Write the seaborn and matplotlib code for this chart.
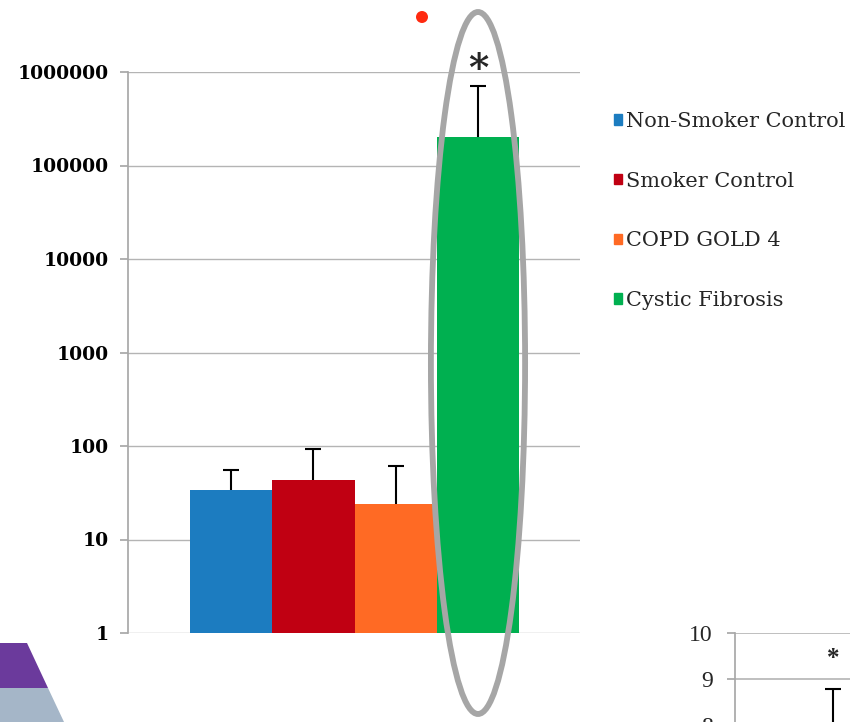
import numpy as np
import pandas as pd
import matplotlib
matplotlib.use("Agg")
import matplotlib.pyplot as plt
import seaborn as sns
from matplotlib.patches import Ellipse, Patch, Polygon
from matplotlib.ticker import NullLocator
from matplotlib.transforms import blended_transform_factory

# Data
groups = ["Non-Smoker Control", "Smoker Control", "COPD GOLD 4", "Cystic Fibrosis"]
means = [34, 43, 24, 201000]
upper_err = [21, 50, 37, 509000]
colors = ["#1c7cc0", "#c00012", "#ff6a24", "#00b050"]
y_ticks = [1, 10, 100, 1000, 10000, 100000, 1000000]

# second chart, cut off at the lower right of the slide
inset_groups = ["Cystic Fibrosis"]
inset_means = [7.2]
inset_err = [1.58]
inset_ticks = [8, 9, 10]

sns.set_theme(style="white")
plt.rcParams["font.family"] = ["DejaVu Serif"]

fig = plt.figure(figsize=(8.5, 7.22), dpi=100)
W, H = 850, 722

def fx(px):
    return px / W

def fy(py):
    return 1 - py / H

# main chart
ax = fig.add_axes([fx(128), fy(633), fx(580) - fx(128), fy(72) - fy(633)])
df = pd.DataFrame({"set": [""] * len(groups), "group": groups, "value": means})
sns.barplot(data=df, x="set", y="value", hue="group", hue_order=groups,
            palette=colors, width=0.8, saturation=1, errorbar=None,
            legend=False, ax=ax, edgecolor="none")
ax.set_yscale("log")

bars = ax.patches[:len(groups)]
centers = [p.get_x() + p.get_width() / 2 for p in bars]
# drawn under the bars so only the upper half shows
ax.errorbar(centers, means, yerr=[upper_err, upper_err], fmt="none",
            ecolor="black", elinewidth=1.5, capsize=6, capthick=1.5, zorder=0.9)

ax.set_ylim(1, 1e6)
ax.set_xlim(-0.551, 0.548)
ax.set_yticks(y_ticks)
ax.set_yticklabels([str(t) for t in y_ticks], fontweight="bold", fontsize=13.5)
ax.yaxis.set_minor_locator(NullLocator())
ax.set_xticks([])
ax.set_xlabel("")
ax.set_ylabel("")
ax.yaxis.grid(True, color="#b4b4b4", lw=1)
ax.set_axisbelow(True)
for s in ["top", "right", "bottom"]:
    ax.spines[s].set_visible(False)
ax.spines["left"].set_color("#a8a8a8")
ax.tick_params(axis="y", left=True, length=6, color="#a8a8a8", pad=8,
               labelcolor="black")

# circle around the Cystic Fibrosis bar and significance star
trans = blended_transform_factory(ax.transData, fig.transFigure)
ax.add_patch(Ellipse((centers[3], fy(363)), width=0.229, height=702 / H,
                     fill=False, ec="#a6a6a6", lw=4.2, transform=trans,
                     clip_on=False, zorder=5))
ax.text(centers[3], 1.05e6, "*", ha="center", va="center", fontsize=28,
        fontweight="bold", clip_on=False)

# legend
handles = [Patch(color=c) for c in colors]
fig.legend(handles, groups, loc="upper left", bbox_to_anchor=(fx(614), fy(112)),
           frameon=False, fontsize=15, handlelength=0.4, handleheight=0.4,
           handletextpad=0.2, labelspacing=1.95, borderaxespad=0, borderpad=0)

# second chart (only its top is visible)
ax2 = fig.add_axes([fx(735), fy(633 + 460), 0.3, 460 / H])
sns.barplot(x=inset_groups, y=inset_means, color=colors[3], saturation=1,
            width=0.5, errorbar=None, ax=ax2)
ax2.errorbar([0], inset_means, yerr=[inset_err, inset_err], fmt="none",
             ecolor="black", elinewidth=1.5, capsize=6, capthick=1.5, zorder=0.9)
ax2.text(0, 9.45, "*", ha="center", va="center", fontsize=18,
         fontweight="bold", family=["Liberation Serif"])
ax2.set_ylim(0, 10)
ax2.set_xlim(-0.6, 0.96)
ax2.set_yticks(inset_ticks)
ax2.set_yticklabels([str(t) for t in inset_ticks], fontsize=17,
                    family=["Liberation Serif"])
ax2.set_xticks([])
ax2.set_xlabel("")
ax2.yaxis.grid(True, color="#b4b4b4", lw=1.2)
ax2.set_axisbelow(True)
for s in ["top", "right", "bottom"]:
    ax2.spines[s].set_visible(False)
ax2.spines["left"].set_color("#a8a8a8")
ax2.tick_params(axis="y", left=True, length=6, color="#a8a8a8", pad=10)

# slide decoration
px = lambda pts: [(fx(x), fy(y)) for x, y in pts]
fig.patches.append(Polygon(px([(0, 643), (27, 643), (48, 688), (0, 688)]),
                           closed=True, fc="#6b3a9c", ec="none",
                           transform=fig.transFigure))
fig.patches.append(Polygon(px([(0, 688), (48, 688), (64, 722), (0, 722)]),
                           closed=True, fc="#a5b6c8", ec="none",
                           transform=fig.transFigure))
fig.patches.append(Ellipse((fx(422), fy(17)), width=12 / W, height=12 / H,
                           fc="#ff2a10", ec="none", transform=fig.transFigure))

fig.savefig("out.png", dpi=100)
